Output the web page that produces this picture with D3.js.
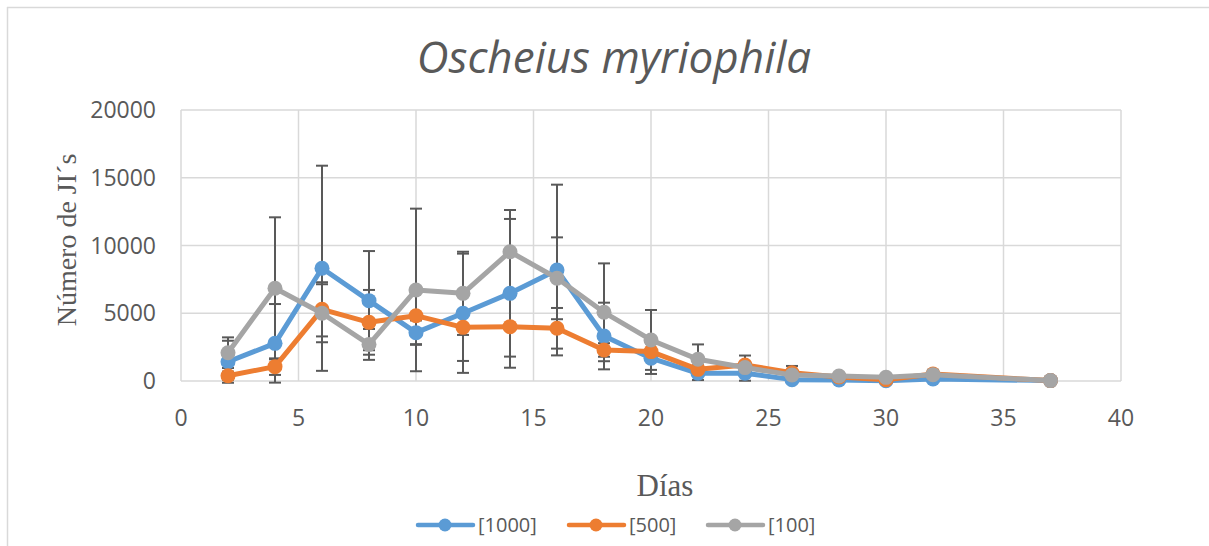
<!DOCTYPE html>
<html>
<head>
<meta charset="utf-8">
<script src="https://cdn.jsdelivr.net/npm/d3@7"></script>
<style>
  body { margin: 0; background: #fff; }
  text { font-family: "Open Sans", sans-serif; fill: #595959; }
</style>
</head>
<body>
<svg width="1209" height="546"></svg>
<script>
// Data
var days = [2, 4, 6, 8, 10, 12, 14, 16, 18, 20, 22, 24, 26, 28, 30, 32, 37];
var c1000 = [1420, 2780, 8320, 5930, 3570, 5000, 6470, 8190, 3320, 1680, 570, 570, 100, 70, 20, 150, 30];
var c500 = [390, 1060, 5290, 4330, 4820, 3960, 4010, 3890, 2290, 2170, 860, 1180, 610, 300, 100, 520, 30];
var c100 = [2090, 6840, 5000, 2700, 6720, 6470, 9540, 7580, 5070, 3030, 1600, 990, 440, 370, 270, 470, 30];
var err1000 = [1550, 2900, 7570, 3660, 900, 4400, 5490, 6300, 2460, 1160, 500, 550, 100, 100, 50, 150, 0];
var err500 = [300, 610, 2000, 2390, 2100, 2480, 2210, 1500, 500, 600, 300, 700, 500, 200, 100, 300, 0];
var err100 = [1130, 5240, 2140, 1140, 6000, 3070, 3080, 3020, 3610, 2210, 1100, 300, 200, 150, 100, 350, 0];
var xTicks = [0, 5, 10, 15, 20, 25, 30, 35, 40];
var yTicks = [0, 5000, 10000, 15000, 20000];

var series = [
  { name: "[1000]", values: c1000, err: err1000, color: "#5B9BD5" },
  { name: "[500]", values: c500, err: err500, color: "#ED7D31" },
  { name: "[100]", values: c100, err: err100, color: "#A5A5A5" }
];

var svg = d3.select("svg");

// chart border (top and left only visible)
svg.append("line").attr("x1", 7).attr("x2", 1209).attr("y1", 7.5).attr("y2", 7.5)
  .attr("stroke", "#d9d9d9").attr("stroke-width", 1.5);
svg.append("line").attr("x1", 7.5).attr("x2", 7.5).attr("y1", 7).attr("y2", 546)
  .attr("stroke", "#d9d9d9").attr("stroke-width", 1.5);

var plotLeft = 181, plotRight = 1121, plotTop = 110, plotBottom = 381;

var x = d3.scaleLinear().domain([0, 40]).range([plotLeft, plotRight]);
var y = d3.scaleLinear().domain([0, 20000]).range([plotBottom, plotTop]);

// gridlines
var grid = svg.append("g");
grid.selectAll(".vg").data(xTicks).enter().append("line")
  .attr("x1", d => x(d)).attr("x2", d => x(d)).attr("y1", plotTop).attr("y2", plotBottom)
  .attr("stroke", "#d9d9d9").attr("stroke-width", 1.5);
grid.selectAll(".hg").data(yTicks).enter().append("line")
  .attr("x1", plotLeft).attr("x2", plotRight).attr("y1", d => y(d)).attr("y2", d => y(d))
  .attr("stroke", "#d9d9d9").attr("stroke-width", 1.5);

// tick labels
svg.append("g").selectAll("text").data(xTicks).enter().append("text")
  .attr("x", d => x(d)).attr("y", 426)
  .attr("text-anchor", "middle").style("font-size", "23px")
  .text(d => d);
svg.append("g").selectAll("text").data(yTicks).enter().append("text")
  .attr("x", 156).attr("y", d => y(d) + 8)
  .attr("text-anchor", "end").style("font-size", "23px")
  .text(d => d);

// title
svg.append("text").attr("x", 614).attr("y", 73)
  .attr("text-anchor", "middle")
  .style("font-size", "44px").style("font-style", "italic")
  .text("Oscheius myriophila");

// axis titles
svg.append("text").attr("x", 665).attr("y", 496)
  .attr("text-anchor", "middle")
  .style("font-family", "'Liberation Serif', 'DejaVu Serif', serif")
  .style("font-size", "31px")
  .text("Días");
svg.append("text")
  .attr("transform", "translate(76,240) rotate(-90)")
  .attr("text-anchor", "middle")
  .style("font-family", "'Liberation Serif', 'DejaVu Serif', serif")
  .style("font-size", "28px")
  .text("Número de JI´s");

// error bars
var eb = svg.append("g").attr("stroke", "#595959").attr("stroke-width", 2);
series.forEach(function (s) {
  days.forEach(function (d, i) {
    var e = s.err[i];
    if (!e) return;
    var hi = y(s.values[i] + e), lo = y(s.values[i] - e), cx = x(d);
    eb.append("line").attr("x1", cx).attr("x2", cx).attr("y1", hi).attr("y2", lo);
    eb.append("line").attr("x1", cx - 6).attr("x2", cx + 6).attr("y1", hi).attr("y2", hi);
    eb.append("line").attr("x1", cx - 6).attr("x2", cx + 6).attr("y1", lo).attr("y2", lo);
  });
});

// series lines and markers
var line = d3.line().x((d, i) => x(days[i])).y(d => y(d));
series.forEach(function (s) {
  var g = svg.append("g");
  g.append("path").datum(s.values)
    .attr("d", line).attr("fill", "none")
    .attr("stroke", s.color).attr("stroke-width", 5)
    .attr("stroke-linejoin", "round");
  g.selectAll("circle").data(s.values).enter().append("circle")
    .attr("cx", (d, i) => x(days[i])).attr("cy", d => y(d))
    .attr("r", 7.5).attr("fill", s.color);
});

// legend
var legX = [418, 569, 708];
var legend = svg.append("g");
series.forEach(function (s, i) {
  var lx = legX[i];
  legend.append("line").attr("x1", lx).attr("x2", lx + 55).attr("y1", 525).attr("y2", 525)
    .attr("stroke", s.color).attr("stroke-width", 4.5).attr("stroke-linecap", "round");
  legend.append("circle").attr("cx", lx + 27).attr("cy", 525).attr("r", 6.5).attr("fill", s.color);
  legend.append("text").attr("x", lx + 60).attr("y", 532)
    .style("font-size", "20px").text(s.name);
});
</script>
</body>
</html>
